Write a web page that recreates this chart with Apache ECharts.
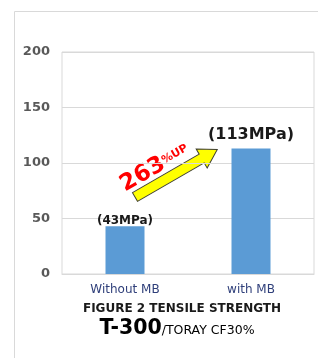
<!DOCTYPE html>
<html>
<head>
<meta charset="utf-8">
<script src="https://cdn.jsdelivr.net/npm/echarts@6/dist/echarts.min.js"></script>
<style>
  html, body { margin: 0; padding: 0; background: #fff; }
  #main { width: 318px; height: 358px; }
</style>
</head>
<body>
<div id="main"></div>
<script>
// 数据
var categories = ['Without MB', 'with MB'];
var strength = [43, 113];
var valueLabels = ['(43MPa)', '(113MPa)'];
var yTicks = { min: 0, max: 200, interval: 50 };

var FONT = 'DejaVu Sans';

var myChart = echarts.init(document.getElementById('main'));

var option = {
    animation: false,
    textStyle: { fontFamily: FONT },
    grid: {
        left: 62,
        right: 4,
        top: 52,
        bottom: 84,
        show: true,
        borderColor: '#d9d9d9',
        borderWidth: 1
    },
    xAxis: {
        type: 'category',
        data: categories,
        axisLine: { show: true, lineStyle: { color: '#d9d9d9' } },
        axisTick: { show: false },
        axisLabel: { color: '#2f3f7a', fontSize: 12, margin: 10, fontFamily: FONT }
    },
    yAxis: {
        type: 'value',
        min: yTicks.min,
        max: yTicks.max,
        interval: yTicks.interval,
        axisLine: { show: false },
        axisTick: { show: false },
        splitLine: { lineStyle: { color: '#d9d9d9' } },
        axisLabel: { color: '#595959', fontSize: 13, fontWeight: 'bold', margin: 12, fontFamily: FONT }
    },
    series: [{
        type: 'bar',
        barWidth: 39,
        itemStyle: { color: '#5b9bd5' },
        data: strength.map(function (v, i) {
            return {
                value: v,
                label: {
                    show: true,
                    position: 'top',
                    formatter: valueLabels[i],
                    color: '#1a1a1a',
                    fontWeight: 'bold',
                    fontFamily: FONT,
                    fontSize: i === 0 ? 12 : 16,
                    distance: i === 0 ? -1 : 6
                }
            };
        })
    }],
    graphic: [
        // 外框
        {
            type: 'rect',
            shape: { x: 14.5, y: 11.5, width: 330, height: 360 },
            style: { fill: 'none', stroke: '#d9d9d9', lineWidth: 1 },
            silent: true
        },
        // 箭头 + 263%UP
        {
            type: 'group',
            x: 135,
            y: 197,
            rotation: 30 * Math.PI / 180,
            children: [
                {
                    type: 'polygon',
                    shape: {
                        points: [[0, -5], [77, -5], [77, -11], [95, 0], [77, 11], [77, 5], [0, 5]]
                    },
                    style: { fill: '#ffff00', stroke: '#3f3f2f', lineWidth: 1 }
                },
                {
                    type: 'text',
                    x: -6,
                    y: -4,
                    style: {
                        text: '{a|263}{b|%UP}',
                        align: 'left',
                        verticalAlign: 'bottom',
                        rich: {
                            a: { fontSize: 23, fontWeight: 'bold', fill: '#ff0000', fontFamily: FONT },
                            b: { fontSize: 11, fontWeight: 'bold', fill: '#ff0000', fontFamily: FONT, padding: [0, 0, 3, 0] }
                        }
                    }
                }
            ]
        },
        // 标题
        {
            type: 'text',
            x: 182,
            y: 309,
            style: {
                text: 'FIGURE 2 TENSILE STRENGTH',
                align: 'center',
                verticalAlign: 'middle',
                fontSize: 12,
                fontWeight: 'bold',
                fontFamily: FONT,
                fill: '#1a1a1a'
            }
        },
        {
            type: 'text',
            x: 177,
            y: 329,
            style: {
                text: '{a|T-300}{b|/TORAY CF30%}',
                align: 'center',
                verticalAlign: 'middle',
                rich: {
                    a: { fontSize: 20.5, fontWeight: 'bold', fill: '#000', fontFamily: FONT },
                    b: { fontSize: 12.5, fill: '#000', fontFamily: FONT, padding: [3, 0, 0, 0] }
                }
            }
        }
    ]
};

myChart.setOption(option);

window.addEventListener('resize', function () {
    myChart.resize();
});
</script>
</body>
</html>
